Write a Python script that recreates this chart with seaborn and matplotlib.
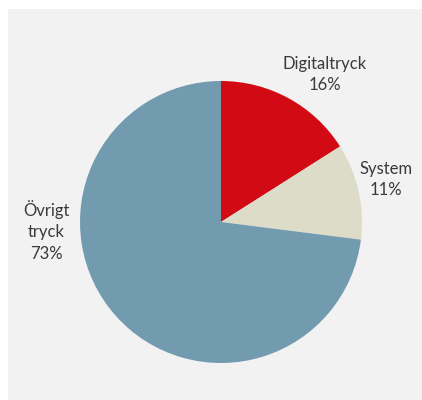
import matplotlib
matplotlib.use("Agg")
import matplotlib.pyplot as plt
from matplotlib.patches import Rectangle
import seaborn as sns

# Share of print volume by segment
categories = ["Digitaltryck", "System", "Övrigt\ntryck"]
shares = [16, 11, 73]
colors = ["#d20a14", "#dddcc9", "#729bb0"]

sns.set_theme(style="white")
plt.rcParams["font.family"] = ["Lato", "DejaVu Sans"]

W, H, DPI = 422, 400, 100
fig = plt.figure(figsize=(W / DPI, H / DPI), dpi=DPI, facecolor="white")

# light grey chart area
fig.patches.append(Rectangle((8 / W, 0), (W - 8) / W, (H - 9) / H,
                             transform=fig.transFigure, facecolor="#f2f2f2",
                             edgecolor="none", zorder=-1))

ax = fig.add_axes([0, 0, 1, 1], zorder=2)
ax.set_facecolor("none")

R = 141.0  # pie radius in pixels
cx, cy = 221.0, 222.0  # centre in pixels from top-left

wedges, _ = ax.pie(shares, colors=sns.color_palette(colors), startangle=90,
                   counterclock=False, radius=1.0, center=(0, 0),
                   wedgeprops=dict(linewidth=0))
ax.set_xlim(-cx / R, (W - cx) / R)
ax.set_ylim(-(H - cy) / R, cy / R)
ax.set_aspect("equal")
ax.axis("off")

# label anchor points (data units relative to pie centre)
label_pos = [(0.738, 1.046), (1.170, 0.301), (-1.241, -0.064)]
for name, val, (x, y) in zip(categories, shares, label_pos):
    ax.text(x, y, f"{name}\n{val}%", ha="center", va="center",
            fontsize=12, color="#3a3a3a", linespacing=1.45)

fig.savefig("out.png", dpi=DPI, facecolor="white")
